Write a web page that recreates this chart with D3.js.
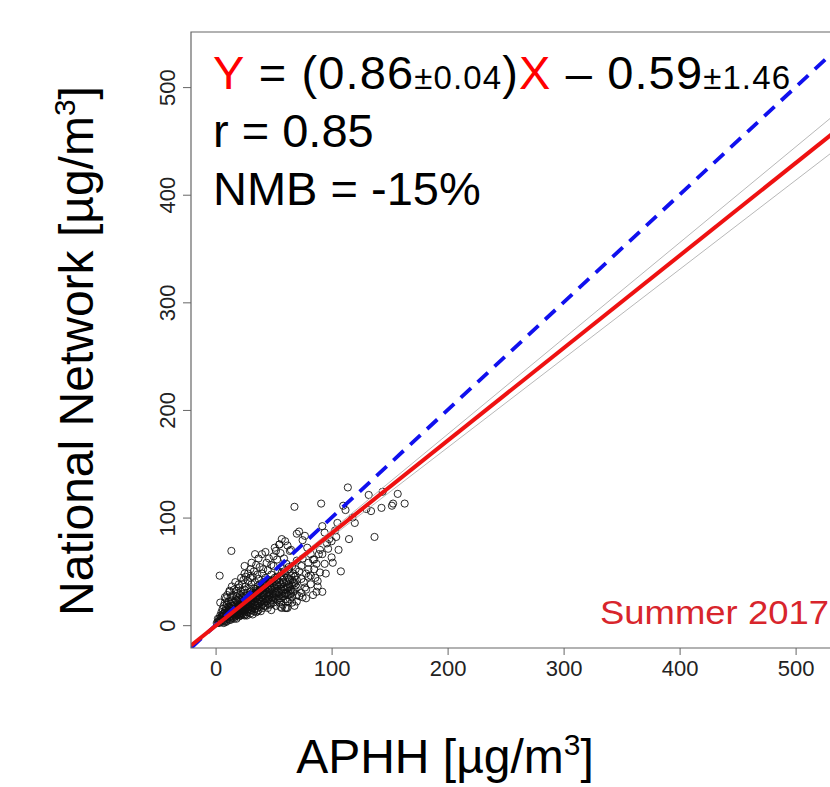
<!DOCTYPE html>
<html><head><meta charset="utf-8">
<script src="https://cdn.jsdelivr.net/npm/d3@7"></script>
<style>body{margin:0;background:#fff;}text{font-family:"Liberation Sans",Arial,sans-serif;}</style>
</head><body><svg id="c" width="830" height="787"></svg>
<script>
// ---- data ----
const aphh = [2,3,4,3,4,5,5,6,6,7,7,7,8,8,8,9,9,9,9,10,10,10,10,11,11,11,12,12,12,12,13,13,13,13,14,14,14,14,15,15,15,15,16,16,16,16,17,17,17,17,18,18,18,18,19,19,19,19,20,20,20,20,20,21,21,21,21,22,22,22,22,22,23,23,23,23,24,24,24,24,25,25,25,25,25,
26,26,26,26,27,27,27,27,28,28,28,28,29,29,29,29,30,30,30,30,30,31,31,31,31,32,32,32,32,32,33,33,33,33,34,34,34,34,35,35,35,35,35,36,36,36,36,37,37,37,37,38,38,38,38,39,39,39,39,40,40,40,40,41,41,41,41,42,42,42,43,43,43,43,44,44,44,45,45,45,45,
46,46,46,47,47,47,48,48,48,49,49,49,50,50,50,50,51,51,51,52,52,52,53,53,53,54,54,54,55,55,55,56,56,56,56,57,57,57,57,58,58,58,59,59,59,60,60,60,60,61,61,61,62,62,62,63,63,63,64,64,64,65,65,66,66,66,67,67,68,68,68,69,69,70,70,70,
72,72,72,74,74,75,75,77,77,78,79,80,80,82,82,84,85,87,87,88,89,90,91,92,92,94,94,96,98,100,101,103,105,108,110,112,114,
130,132,134,137,143,144,152,153,157,163,
13.6,3.5,31,34,40,51,55,61,62,12,8,4,
14,16,18,20,22,24,26,28,30,32,34,36,38,40,42,44,46,48,11,13,15,17,19,21,23,27,29,31,33,35,37,39,41,43,45,47,49,53,57,59,63];
const national = [3,2,5,6,9,4,12,8,15,5,11,18,7,13,21,3,10,16,25,6,12,19,28,9,14,22,5,11,17,31,8,13,20,26,10,15,23,36,7,12,18,28,9,14,21,33,11,16,24,40,6,13,19,27,10,15,22,30,8,12,17,25,35,11,14,20,28,9,16,23,31,44,13,18,26,38,10,15,21,29,12,17,24,33,48,
14,19,27,36,9,16,22,30,12,18,25,41,15,21,28,34,11,17,24,31,52,14,20,27,38,10,16,23,30,45,13,19,26,34,15,22,29,40,12,18,25,32,56,16,21,28,36,14,20,27,43,17,24,31,38,13,22,29,35,19,26,33,48,16,23,30,40,21,28,36,18,25,32,44,22,29,38,20,27,34,51,
24,31,42,19,28,36,23,33,47,26,30,39,21,29,37,55,25,34,44,28,38,69,23,32,42,27,36,50,30,40,75,17,25,34,46,16,29,38,80,32,42,53,27,36,45,16,24,33,48,30,40,57,22,35,44,28,38,52,32,42,69,33,46,26,37,55,40,48,33,45,110,37,46,28,42,60,
27,50,87,43,55,26,62,35,83,48,72,45,58,46,66,61,52,31,57,41,66,70,113,31,92,57,86,76,80,63,58,88,95,50,111,107,128,
108,121,106,82,109,124,111,113,122,113,
69,46,58,66,66,72,75,16,22,32,26,21,
12,14,15,17,19,20,22,24,26,27,29,31,33,34,36,38,40,41,9,11,13,14,16,18,19,23,25,26,28,30,31,33,35,37,39,40,42,45,49,50,54];
const aphhExtra = [5,6,7,8,9,10,11,12,13,14,15,16,17,18,19,20,21,22,23,24,25,26,27,28,29,30,31,32,33,34,35,36,37,38,39,40,41,42,43,44,45,46,47,48,49,50,51,52,53,54,55,56,57,58,59,60,61,62,63,64,65,66,67,68,69,70,
18,20,24,26,28,30,33,36,38,41,44,46,48,50,53,56,59,62,65,25,37,43,60,70,75,
45,48,52,55,58,62,66,70,74,78,82,86,90,95,78,84,88,68,64,76,80,85,92,97,100,104,106,115,120,118,
1,2,3,4,5,6,7,8,9,10,11,12,13,14,15,16,17,18,19,20,21,22,23,24,25,26,27,28,29,30];
const nationalExtra = [8,3,9,4,14,9,17,8,16,7,21,11,8,23,12,14,9,19,11,26,14,10,19,15,24,14,22,19,29,18,28,13,24,20,33,22,27,18,29,35,24,28,33,20,35,26,30,24,37,31,25,38,33,27,40,29,35,28,43,36,29,42,31,39,52,35,
32,38,42,45,48,44,50,47,54,52,58,62,56,64,61,67,62,74,70,55,62,68,78,85,79,
16,14,18,21,19,16,21,22,30,33,38,44,49,48,25,28,36,18,24,40,52,61,66,71,78,82,70,80,95,100,
2,6,4,3,7,10,2,11,7,4,12,14,5,18,10,6,13,9,18,10,24,13,21,18,9,22,13,20,17,20];
const xTicks = [0,100,200,300,400,500];
const yTicks = [0,100,200,300,400,500];
const domainX = [-21.2, 551.2];
const domainY = [-21.2, 551.2];
const fitLine = {slope:0.86, intercept:-0.59};
const bandLines = [{slope:0.89, intercept:-0.6},{slope:0.828, intercept:-0.6}];
const oneToOne = {slope:1, intercept:0};
const eqParts = [["Y","red",47],[" = (0.86","black",47],["±0.04","black",33],[")","black",47],["X","red",47],[" – 0.59","black",47],["±1.46","black",33]];
const statLines = ["r = 0.85","NMB = -15%"];
const seasonLabel = "Summer 2017";

// ---- drawing ----
const svg = d3.select("#c");
const L=191, R=855, T=32, B=648;
const x = d3.scaleLinear().domain(domainX).range([L,R]);
const y = d3.scaleLinear().domain(domainY).range([B,T]);

svg.append("defs").append("clipPath").attr("id","clip")
  .append("rect").attr("x",L).attr("y",T).attr("width",R-L).attr("height",B-T);

const plot = svg.append("g").attr("clip-path","url(#clip)");
const pts = d3.range(aphh.length).map(i=>[aphh[i],national[i]])
  .concat(d3.range(aphhExtra.length).map(i=>[aphhExtra[i],nationalExtra[i]]));
plot.selectAll("circle").data(pts).join("circle")
  .attr("cx",d=>x(d[0])).attr("cy",d=>y(d[1])).attr("r",3.6)
  .attr("fill","none").attr("stroke","#111").attr("stroke-width",0.9);

function lineFor(p){ return [[domainX[0], p.slope*domainX[0]+p.intercept],[domainX[1], p.slope*domainX[1]+p.intercept]]; }
const lg = d3.line().x(d=>x(d[0])).y(d=>y(d[1]));
bandLines.forEach(p=>plot.append("path").attr("d",lg(lineFor(p))).attr("stroke","#b8b8b8").attr("stroke-width",1).attr("fill","none"));
plot.append("path").attr("d",lg(lineFor(oneToOne))).attr("stroke","#1010ee").attr("stroke-width",3.8).attr("stroke-dasharray","14,9").attr("fill","none");
plot.append("path").attr("d",lg(lineFor(fitLine))).attr("stroke","#ee1111").attr("stroke-width",4).attr("fill","none");

// box
svg.append("path").attr("d",`M${R},${T}H${L}V${B}H${R}`).attr("fill","none").attr("stroke","#666").attr("stroke-width",1.2);

// axes
const xa = svg.append("g").attr("transform",`translate(0,${B})`)
  .call(d3.axisBottom(x).tickValues(xTicks).tickSize(7).tickPadding(5));
xa.select(".domain").remove();
xa.selectAll("line").attr("stroke","#666");
xa.selectAll("text").attr("font-size",22).attr("fill","#222").attr("font-family","Liberation Sans");

const ya = svg.append("g").attr("transform",`translate(${L},0)`)
  .call(d3.axisLeft(y).tickValues(yTicks).tickSize(8).tickPadding(6));
ya.select(".domain").remove();
ya.selectAll("line").attr("stroke","#666");
ya.selectAll("text").attr("font-size",22).attr("fill","#222").attr("font-family","Liberation Sans")
  .attr("text-anchor","middle").attr("dy",null)
  .attr("transform","translate(-16,0) rotate(-90)")
  .attr("x",0).attr("y",0);

// equation text
const eq = svg.append("text").attr("x",213).attr("y",89).attr("textLength",577).attr("lengthAdjust","spacing");
eqParts.forEach(p=>eq.append("tspan").text(p[0]).attr("fill",p[1]).attr("font-size",p[2]));
statLines.forEach((s,i)=>svg.append("text").attr("x",213).attr("y",147+i*58).attr("font-size",47).attr("fill","black").text(s));

svg.append("text").attr("x",600).attr("y",624).attr("font-size",33).attr("fill","#d8252c")
  .attr("textLength",229).attr("lengthAdjust","spacingAndGlyphs").text(seasonLabel);

// axis titles
const xl = svg.append("text").attr("x",445).attr("y",773).attr("text-anchor","middle").attr("font-size",48).attr("fill","black");
xl.append("tspan").text("APHH [µg/m");
xl.append("tspan").text("3").attr("font-size",30).attr("dy",-18);
xl.append("tspan").text("]").attr("dy",18);

const yl = svg.append("text").attr("transform","translate(93,351) rotate(-90)").attr("text-anchor","middle").attr("font-size",48).attr("fill","black");
yl.append("tspan").text("National Network [µg/m");
yl.append("tspan").text("3").attr("font-size",30).attr("dy",-18);
yl.append("tspan").text("]").attr("dy",18);
</script></body></html>
